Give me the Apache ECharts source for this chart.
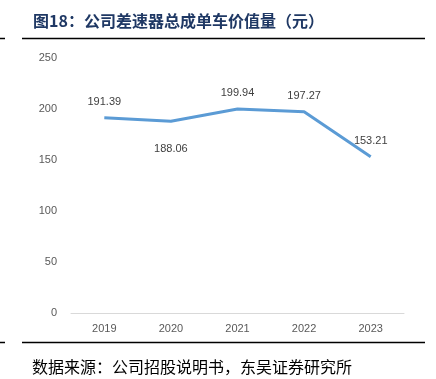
<!DOCTYPE html>
<html>
<head>
<meta charset="utf-8">
<script src="https://cdn.jsdelivr.net/npm/echarts@6/dist/echarts.min.js"></script>
<style>
  html, body { margin: 0; padding: 0; background: #fff; }
  #chart { width: 436px; height: 379px; }
</style>
</head>
<body>
<div id="chart"></div>
<script>
var years = ['2019', '2020', '2021', '2022', '2023'];
var values = [191.39, 188.06, 199.94, 197.27, 153.21];
var yTicks = [0, 50, 100, 150, 200, 250];

var chart = echarts.init(document.getElementById('chart'), null, { renderer: 'canvas' });

// the 2020 label sits under the line in the source chart
var seriesData = values.map(function (v, i) {
  var item = { value: v };
  if (i === 1) item.label = { position: 'bottom', distance: 22 };
  return item;
});

var option = {
  backgroundColor: '#fff',
  animation: false,
  title: {
    text: '图18：公司差速器总成单车价值量（元）',
    left: 33,
    top: 13,
    padding: 0,
    textStyle: {
      fontFamily: 'Noto Sans CJK SC',
      fontSize: 16,
      fontWeight: 'bold',
      color: '#1F3864'
    }
  },
  graphic: [
    // top rule
    { type: 'line', shape: { x1: 22, y1: 38.5, x2: 425, y2: 38.5 }, style: { stroke: '#000', lineWidth: 1.5 } },
    { type: 'line', shape: { x1: 0, y1: 38.5, x2: 5, y2: 38.5 }, style: { stroke: '#000', lineWidth: 1.5 } },
    // bottom rule
    { type: 'line', shape: { x1: 22, y1: 342.5, x2: 425, y2: 342.5 }, style: { stroke: '#000', lineWidth: 1.5 } },
    { type: 'line', shape: { x1: 0, y1: 342.5, x2: 5, y2: 342.5 }, style: { stroke: '#000', lineWidth: 1.5 } },
    {
      type: 'text',
      left: 32,
      top: 359,
      style: {
        text: '数据来源：公司招股说明书，东吴证券研究所',
        font: '16px "Noto Sans CJK SC"',
        fill: '#000'
      }
    }
  ],
  grid: { left: 71, right: 32, top: 58, bottom: 66 },
  xAxis: {
    type: 'category',
    data: years,
    boundaryGap: true,
    axisLine: { lineStyle: { color: '#D9D9D9', width: 1 } },
    axisTick: { show: false },
    axisLabel: { color: '#595959', fontSize: 11, margin: 10, fontFamily: 'Liberation Sans' }
  },
  yAxis: {
    type: 'value',
    min: yTicks[0],
    max: yTicks[yTicks.length - 1],
    interval: 50,
    axisLine: { show: false },
    axisTick: { show: false },
    splitLine: { show: false },
    axisLabel: { color: '#595959', fontSize: 11, margin: 14, fontFamily: 'Liberation Sans' }
  },
  series: [{
    type: 'line',
    data: seriesData,
    symbol: 'circle',
    symbolSize: 1,
    showSymbol: true,
    itemStyle: { color: 'rgba(91,155,213,0)' },
    lineStyle: { color: '#5B9BD5', width: 3 },
    label: {
      show: true,
      position: 'top',
      distance: 10,
      color: '#404040',
      fontSize: 11,
      fontFamily: 'Liberation Sans',
      formatter: function (p) { return p.value.toFixed(2); }
    }
  }]
};

chart.setOption(option);
</script>
</body>
</html>
